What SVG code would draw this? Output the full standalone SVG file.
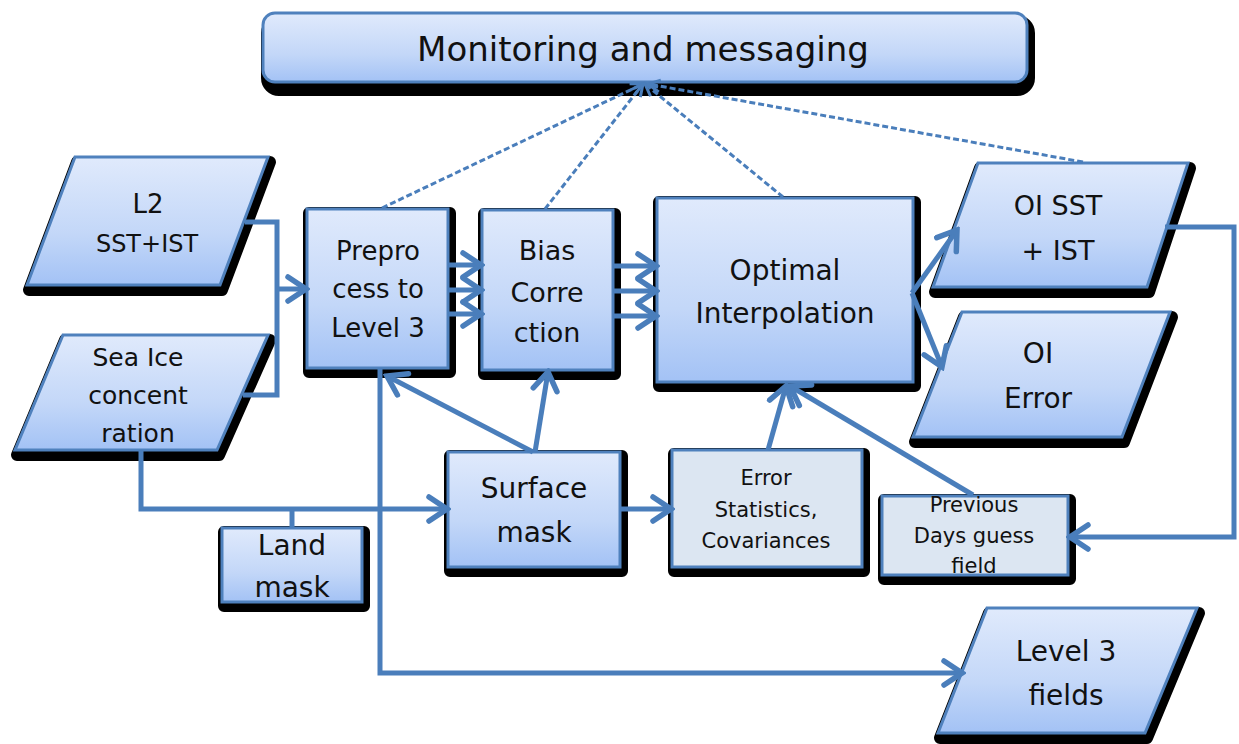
<svg xmlns="http://www.w3.org/2000/svg" width="1239" height="744" viewBox="0 0 1239 744">
<defs>
<linearGradient id="grad" x1="0" y1="0" x2="0" y2="1">
<stop offset="0" stop-color="#e0eafc"/>
<stop offset="0.6" stop-color="#c3d7f8"/>
<stop offset="1" stop-color="#a3c2f5"/>
</linearGradient>
<marker id="arr" viewBox="0 0 26 30" markerWidth="26" markerHeight="30" refX="22" refY="15" orient="auto" markerUnits="userSpaceOnUse">
<path d="M4,3 L22,15 L4,27" fill="none" stroke="#4a7ebb" stroke-width="5.5" stroke-linecap="round"/>
</marker>
<marker id="darr" viewBox="0 0 18 18" markerWidth="18" markerHeight="18" refX="15" refY="9" orient="auto" markerUnits="userSpaceOnUse">
<path d="M3,3 L15,9 L3,15" fill="none" stroke="#4a7ebb" stroke-width="3"/>
</marker>
</defs>
<style>
.sh{fill:#000;stroke:#000;stroke-width:12;stroke-linejoin:round}
.nd{fill:url(#grad);stroke:#4f81bd;stroke-width:3}
.nl{fill:#dce6f2;stroke:#4f81bd;stroke-width:3}
.t{font-family:"DejaVu Sans",sans-serif;fill:#111;text-anchor:middle}
.c{fill:none;stroke:#4a7ebb;stroke-width:5}
.ca{fill:none;stroke:#4a7ebb;stroke-width:5;marker-end:url(#arr)}
.d{fill:none;stroke:#4a7ebb;stroke-width:3;stroke-dasharray:6 3;marker-end:url(#darr)}
</style>
<rect width="1239" height="744" fill="#fff"/>

<g id="monitoring">
<rect class="sh" x="265" y="17" width="762" height="69" rx="12" transform="translate(2,4)"/>
<rect class="nd" x="263" y="13" width="764" height="69" rx="12"/>
<text class="t" x="643" y="61" font-size="34">Monitoring and messaging</text>
</g>

<g id="l2">
<path class="sh" d="M75,157 H268 L220,285 H27 Z" transform="translate(2,5)"/>
<path class="nd" d="M75,157 H268 L220,285 H27 Z"/>
<text class="t" x="148" y="213" font-size="26">L2</text>
<text class="t" x="147" y="252" font-size="24">SST+IST</text>
</g>

<g id="seaice">
<path class="sh" d="M63,335 H268 L217,450 H15 Z" transform="translate(2,5)"/>
<path class="nd" d="M63,335 H268 L217,450 H15 Z"/>
<text class="t" x="138" y="366" font-size="25">Sea Ice</text>
<text class="t" x="138" y="404" font-size="25">concent</text>
<text class="t" x="138" y="442" font-size="25">ration</text>
</g>

<g id="preprocess">
<rect class="sh" x="307" y="209" width="141" height="159" transform="translate(2,4)"/>
<rect class="nd" x="307" y="209" width="141" height="159"/>
<text class="t" x="378" y="260" font-size="26">Prepro</text>
<text class="t" x="378" y="298" font-size="26">cess to</text>
<text class="t" x="378" y="337" font-size="26">Level 3</text>
</g>

<g id="bias">
<rect class="sh" x="482" y="210" width="131" height="160" transform="translate(2,4)"/>
<rect class="nd" x="482" y="210" width="131" height="160"/>
<text class="t" x="547" y="260" font-size="27">Bias</text>
<text class="t" x="547" y="302" font-size="27">Corre</text>
<text class="t" x="547" y="342" font-size="27">ction</text>
</g>

<g id="oi">
<rect class="sh" x="657" y="198" width="256" height="184" transform="translate(2,4)"/>
<rect class="nd" x="657" y="198" width="256" height="184"/>
<text class="t" x="785" y="280" font-size="28">Optimal</text>
<text class="t" x="785" y="323" font-size="28">Interpolation</text>
</g>

<g id="oisst">
<path class="sh" d="M978,163 H1188 L1147,287 H933 Z" transform="translate(2,5)"/>
<path class="nd" d="M978,163 H1188 L1147,287 H933 Z"/>
<text class="t" x="1058" y="215" font-size="27">OI SST</text>
<text class="t" x="1058" y="260" font-size="27">+ IST</text>
</g>

<g id="oierror">
<path class="sh" d="M962,312 H1170 L1122,437 H913 Z" transform="translate(2,5)"/>
<path class="nd" d="M962,312 H1170 L1122,437 H913 Z"/>
<text class="t" x="1038" y="363" font-size="28">OI</text>
<text class="t" x="1038" y="408" font-size="28">Error</text>
</g>

<g id="surface">
<rect class="sh" x="448" y="452" width="172" height="115" transform="translate(2,4)"/>
<rect class="nd" x="448" y="452" width="172" height="115"/>
<text class="t" x="534" y="498" font-size="28">Surface</text>
<text class="t" x="534" y="542" font-size="28">mask</text>
</g>

<g id="landmask">
<rect class="sh" x="222" y="528" width="140" height="74" transform="translate(2,4)"/>
<rect class="nd" x="222" y="528" width="140" height="74"/>
<text class="t" x="292" y="555" font-size="28">Land</text>
<text class="t" x="292" y="597" font-size="28">mask</text>
</g>

<g id="errstats">
<rect class="sh" x="672" y="450" width="190" height="117" transform="translate(2,4)"/>
<rect class="nl" x="672" y="450" width="190" height="117"/>
<text class="t" x="766" y="485" font-size="21">Error</text>
<text class="t" x="766" y="517" font-size="21">Statistics,</text>
<text class="t" x="766" y="548" font-size="21">Covariances</text>
</g>

<g id="previous">
<rect class="sh" x="882" y="496" width="186" height="79" transform="translate(2,4)"/>
<rect class="nl" x="882" y="496" width="186" height="79"/>
<text class="t" x="974" y="512" font-size="21">Previous</text>
<text class="t" x="974" y="543" font-size="21">Days guess</text>
<text class="t" x="974" y="573" font-size="21">field</text>
</g>

<g id="level3">
<path class="sh" d="M987,608 H1197 L1145,733 H938 Z" transform="translate(2,5)"/>
<path class="nd" d="M987,608 H1197 L1145,733 H938 Z"/>
<text class="t" x="1066" y="661" font-size="28">Level 3</text>
<text class="t" x="1066" y="705" font-size="28">fields</text>
</g>

<g id="connectors">
<path class="d" d="M382,208 L643,84"/>
<path class="d" d="M545,209 L643,84"/>
<path class="d" d="M783,197 L645,84"/>
<path class="d" d="M1083,162 L648,84"/>
<path class="c" d="M245,222 H277 V395 H243"/>
<path class="ca" d="M277,289 H306"/>
<path class="ca" d="M448,265 H481"/>
<path class="ca" d="M448,290 H481"/>
<path class="ca" d="M448,314 H481"/>
<path class="ca" d="M613,266 H656"/>
<path class="ca" d="M613,291 H656"/>
<path class="ca" d="M613,316 H656"/>
<path class="ca" d="M912,293 L957,230"/>
<path class="ca" d="M912,293 L942,367"/>
<path class="ca" d="M533,452 L387,376"/>
<path class="ca" d="M535,452 L548,372"/>
<path class="ca" d="M141,450 V509 H447"/>
<path class="c" d="M292,509 V528"/>
<path class="ca" d="M380,368 V673 H962"/>
<path class="ca" d="M620,509 H671"/>
<path class="ca" d="M768,450 L786,386"/>
<path class="ca" d="M973,495 L790,386"/>
<path class="ca" d="M1165,227 H1234 V537 H1070"/>
</g>
</svg>
